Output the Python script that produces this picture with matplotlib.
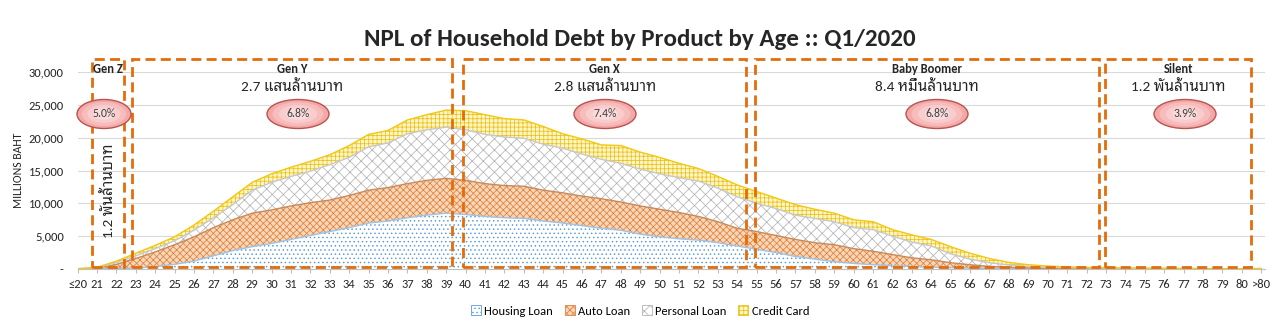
"""NPL of Household Debt by Product by Age :: Q1/2020 — stacked area by age + generation boxes."""
import numpy as np
import matplotlib
matplotlib.use("Agg")
import matplotlib.pyplot as plt
from matplotlib import font_manager as fm
from matplotlib.patches import Rectangle, Ellipse, Patch

AGES = ["≤20"] + [str(a) for a in range(21, 81)] + [">80"]

# millions baht
HOUSING = [0, 10, 50, 150, 350, 700, 1200, 2000, 2800, 3400,
           3900, 4500, 5100, 5700, 6300, 7000, 7300, 7800, 8200, 8500,
           8300, 8000, 7800, 7700, 7300, 7000, 6600, 6200, 5900, 5300,
           4900, 4600, 4400, 4000, 3500, 3000, 2500, 1900, 1500, 1100,
           850, 650, 500, 380, 300, 200, 140, 90, 60, 40,
           30, 22, 17, 13, 10, 8, 6, 5, 4, 3, 2, 5]
AUTO = [20, 90, 650, 1450, 2250, 3000, 3700, 4300, 4700, 5100,
        5100, 5100, 5000, 4800, 4900, 5000, 5100, 5200, 5300, 5300,
        5200, 5000, 4900, 4900, 4700, 4600, 4500, 4500, 4300, 4300,
        4200, 4000, 3600, 3200, 2700, 2700, 2600, 2600, 2500, 2600,
        2250, 2050, 1700, 1320, 1100, 750, 510, 310, 200, 130,
        90, 68, 53, 42, 35, 30, 24, 20, 16, 13, 10, 20]
PERSONAL = [20, 100, 300, 400, 500, 600, 1000, 1500, 2300, 3500,
            4200, 4500, 4800, 5400, 5800, 6600, 6800, 7600, 7700, 7800,
            7700, 7500, 7400, 7300, 7000, 6800, 6400, 6000, 5900, 5600,
            5400, 5300, 5400, 5100, 4800, 4300, 4100, 3700, 3700, 3500,
            3200, 3300, 2800, 2400, 2100, 1350, 850, 550, 340, 210,
            150, 110, 80, 65, 55, 42, 35, 30, 25, 19, 16, 25]
CREDIT = [10, 50, 200, 400, 500, 600, 800, 1000, 1200, 1200,
          1300, 1400, 1500, 1500, 1800, 1900, 1900, 2100, 2300, 2600,
          2900, 3000, 2800, 2800, 2700, 2200, 2300, 2200, 2700, 2600,
          2500, 2200, 1900, 1800, 1800, 1800, 1600, 1600, 1400, 1300,
          1200, 1200, 1000, 1100, 1000, 1100, 900, 650, 400, 270,
          180, 130, 100, 80, 60, 50, 45, 35, 25, 20, 17, 30]
SERIES = ["Housing Loan", "Auto Loan", "Personal Loan", "Credit Card"]

GENS = ["Gen Z", "Gen Y", "Gen X", "Baby Boomer", "Silent"]
GEN_AMOUNT = ["1.2 พันล้านบาท", "2.7 แสนล้านบาท", "2.8 แสนล้านบาท",
              "8.4 หมื่นล้านบาท", "1.2 พันล้านบาท"]
GEN_NPL = ["5.0%", "6.8%", "7.4%", "6.8%", "3.9%"]

# layout: box spans in category units, ellipse centres in pixels
BOX_X = [(0.73, 2.39), (2.79, 19.32), (19.88, 34.45), (34.92, 52.65), (52.96, 60.49)]
ELL_X = [104, 298, 605, 937, 1185]
ELL_W = [54, 62, 62, 62, 62]

W, H = 1280, 325


def pick(names, fallback):
    have = {f.name for f in fm.fontManager.ttflist}
    for n in names:
        if n in have:
            return n
    return fallback


LATIN = pick(["Carlito", "Calibri", "Open Sans"], "DejaVu Sans")
THAI = pick(["Noto Sans Thai Looped", "Noto Sans Thai", "Sarabun", "Anuphan"], "DejaVu Sans")
plt.rcParams.update({"font.family": [LATIN, THAI, "DejaVu Sans"],
                     "hatch.linewidth": 0.55})

FACE = ["#FFFFFF", "#F8D6BA", "#FFFFFF", "#FFF6C8"]
HATCH_C = ["#5B9BD5", "#E0823A", "#B4B4B4", "#E8C21A"]
LINE_C = ["#9DC3E6", "#C98A5A", "#C8C8C8", "#F2C811"]
HATCH = ["....", "xxxxx", "xxx", "++++"]

fig = plt.figure(figsize=(W / 100, H / 100), dpi=100)
ax = fig.add_axes([77.6 / W, 1 - 269 / H, (1265 - 77.6) / W, 197 / H])

x = np.arange(len(AGES))
data = [HOUSING, AUTO, PERSONAL, CREDIT]
polys = ax.stackplot(x, *data, colors=FACE, zorder=2)
for p, c, h in zip(polys, HATCH_C, HATCH):
    p.set_edgecolor(c)
    p.set_hatch(h)
    p.set_linewidth(0)
for top, c in zip(np.cumsum(data, axis=0), LINE_C):
    ax.plot(x, top, color=c, lw=1.0, zorder=3)

ax.set_xlim(0, 61.2)
ax.set_ylim(0, 30000)
ax.set_yticks(range(0, 30001, 5000))
ax.set_yticklabels(["-"] + [f"{v:,}" for v in range(5000, 30001, 5000)])
ax.set_xticks(x)
ax.set_xticklabels(AGES)
ax.tick_params(axis="y", length=0, labelsize=9, labelcolor="#262626", pad=10)
ax.tick_params(axis="x", length=3, color="#BFBFBF", labelsize=9, labelcolor="#262626", pad=4)
ax.grid(axis="y", color="#D9D9D9", lw=0.8, zorder=0)
ax.set_axisbelow(True)
for s in ["top", "right", "left"]:
    ax.spines[s].set_visible(False)
ax.spines["bottom"].set_color("#BFBFBF")
ax.set_ylabel("MILLIONS BAHT", fontsize=8.5, color="#262626", labelpad=3)

fig.text(0.5, 1 - 40 / H, "NPL of Household Debt by Product by Age :: Q1/2020",
         ha="center", va="center", fontsize=18, fontweight="bold", color="#262626")

trans = ax.get_xaxis_transform()
for k, (x0, x1) in enumerate(BOX_X):
    ax.add_patch(Rectangle((x0, 0.01), x1 - x0, 1.056, transform=trans, fill=False,
                           ec="#E46C0A", lw=2.0, ls=(0, (3.6, 1.9)), clip_on=False, zorder=5))
    xc = (x0 + x1) / 2
    ax.text(xc, 1 - (69 - 72) / 197, GENS[k], transform=trans, ha="center", va="center",
            fontsize=9, fontweight="bold", color="#262626", zorder=7)
    if k > 0:
        ax.text(xc, 1 - (86 - 72) / 197, GEN_AMOUNT[k], transform=trans, ha="center",
                va="center", fontsize=11, color="#262626", zorder=7)
    else:
        ax.text(xc, (269 - 191) / 197, GEN_AMOUNT[k], transform=trans, ha="center",
                va="center", fontsize=11, rotation=90, color="#262626", zorder=7)

    cx, cy = ELL_X[k] / W, 1 - 114 / H
    ew, eh = ELL_W[k] / W, 29 / H
    for f, col in zip([1.0, 0.82, 0.62, 0.4], ["#F4A9A9", "#F7BCBC", "#F9CDCD", "#FBDCDC"]):
        fig.add_artist(Ellipse((cx, cy), ew * f, eh * f, transform=fig.transFigure,
                               fc=col, ec="#B9534E" if f == 1.0 else "none",
                               lw=1.0, zorder=8))
    fig.text(cx, cy, GEN_NPL[k], ha="center", va="center", fontsize=8.5,
             color="#404040", zorder=9)

handles = [Patch(fc=f, ec=c, hatch=h, lw=0.6) for f, c, h in zip(FACE, HATCH_C, HATCH)]
fig.legend(handles, SERIES, loc="center", bbox_to_anchor=(0.5, 1 - 311 / H), ncol=4,
           frameon=False, fontsize=9, handlelength=0.8, handleheight=0.8,
           handletextpad=0.3, columnspacing=0.9)

fig.savefig("out.png", dpi=100)
